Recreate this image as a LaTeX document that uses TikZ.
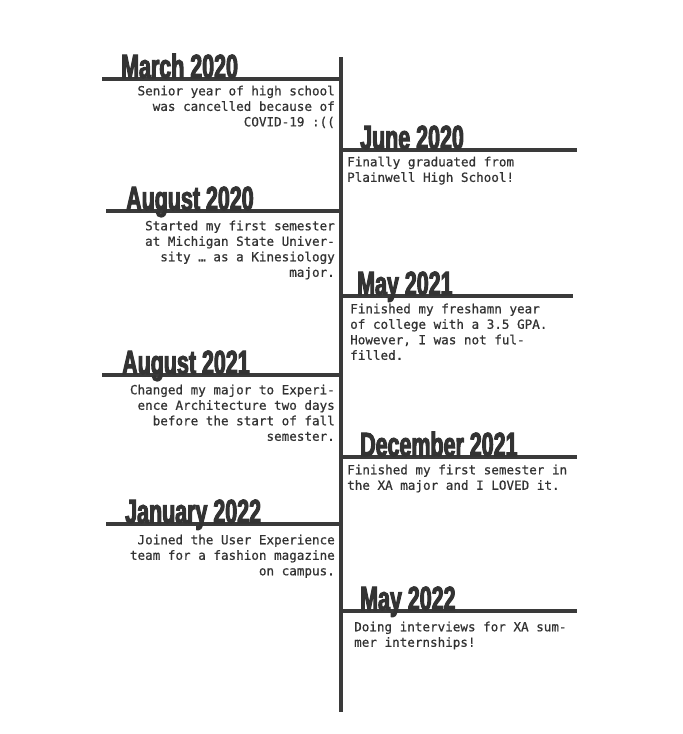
\documentclass[tikz,border=0pt]{standalone}
\usepackage{fontspec}
\newfontfamily\headfont[FakeStretch=0.64,FakeBold=3]{Liberation Sans Bold}
\newfontfamily\bodyfont[FakeBold=0.7]{DejaVu Sans Mono}
\definecolor{ink}{HTML}{333333}
\definecolor{rulegray}{HTML}{3A3A3A}

\begin{document}
\begin{tikzpicture}[
    x=1pt, y=-1pt,
    spine/.style={draw=rulegray, line width=4.5pt},
    rule/.style={draw=rulegray, line width=3.2pt},
    date/.style={anchor=base west, inner sep=0pt, text=ink, font=\fontsize{33.5}{33.5}\selectfont\headfont},
    lefttext/.style={anchor=north east, inner sep=0pt, align=right, text=ink, font=\fontsize{12.6}{15.5}\selectfont\bodyfont},
    righttext/.style={anchor=north west, inner sep=0pt, align=left, text=ink, font=\fontsize{12.6}{15.5}\selectfont\bodyfont}
  ]
  \useasboundingbox[fill=white] (0,0) rectangle (683,734);

  % the spine of the timeline
  \coordinate (top) at (341,57);
  \coordinate (bottom) at (341,712);

  % March 2020 (left)
  \coordinate (mar20a) at (102,79);
  \coordinate (mar20b) at (341,79);
  \draw[rule] (mar20a) -- (mar20b);
  \node[date] (mar20) at (121,78) {March 2020};
  \node[lefttext] (mar20txt) at (335,85.5) {Senior year of high school\\was cancelled because of\\COVID-19 :((};

  % June 2020 (right)
  \coordinate (jun20a) at (341,150);
  \coordinate (jun20b) at (577,150);
  \draw[rule] (jun20a) -- (jun20b);
  \node[date] (jun20) at (360,149) {June 2020};
  \node[righttext] (jun20txt) at (347,156.5) {Finally graduated from\\Plainwell High School!};

  % August 2020 (left)
  \coordinate (aug20a) at (106,211);
  \coordinate (aug20b) at (341,211);
  \draw[rule] (aug20a) -- (aug20b);
  \node[date] (aug20) at (126,210) {August 2020};
  \node[lefttext] (aug20txt) at (335,220.5) {Started my first semester\\at Michigan State Univer-\\sity … as a Kinesiology\\major.};

  % May 2021 (right)
  \coordinate (may21a) at (341,296);
  \coordinate (may21b) at (573,296);
  \draw[rule] (may21a) -- (may21b);
  \node[date] (may21) at (357,295) {May 2021};
  \node[righttext] (may21txt) at (350,303.5) {Finished my freshamn year\\of college with a 3.5 GPA.\\However, I was not ful-\\filled.};

  % August 2021 (left)
  \coordinate (aug21a) at (102,375);
  \coordinate (aug21b) at (341,375);
  \draw[rule] (aug21a) -- (aug21b);
  \node[date] (aug21) at (122,374) {August 2021};
  \node[lefttext] (aug21txt) at (335,384.5) {Changed my major to Experi-\\ence Architecture two days\\before the start of fall\\semester.};

  % December 2021 (right)
  \coordinate (dec21a) at (341,457);
  \coordinate (dec21b) at (577,457);
  \draw[rule] (dec21a) -- (dec21b);
  \node[date] (dec21) at (360,456) {December 2021};
  \node[righttext] (dec21txt) at (347,464.5) {Finished my first semester in\\the XA major and I LOVED it.};

  % January 2022 (left)
  \coordinate (jan22a) at (106,524);
  \coordinate (jan22b) at (341,524);
  \draw[rule] (jan22a) -- (jan22b);
  \node[date] (jan22) at (125,523) {January 2022};
  \node[lefttext] (jan22txt) at (335,534.5) {Joined the User Experience\\team for a fashion magazine\\on campus.};

  % May 2022 (right)
  \coordinate (may22a) at (341,611);
  \coordinate (may22b) at (577,611);
  \draw[rule] (may22a) -- (may22b);
  \node[date] (may22) at (360,610) {May 2022};
  \node[righttext] (may22txt) at (354,621.5) {Doing interviews for XA sum-\\mer internships!};

  \draw[spine] (top) -- (bottom);

\end{tikzpicture}
\end{document}
